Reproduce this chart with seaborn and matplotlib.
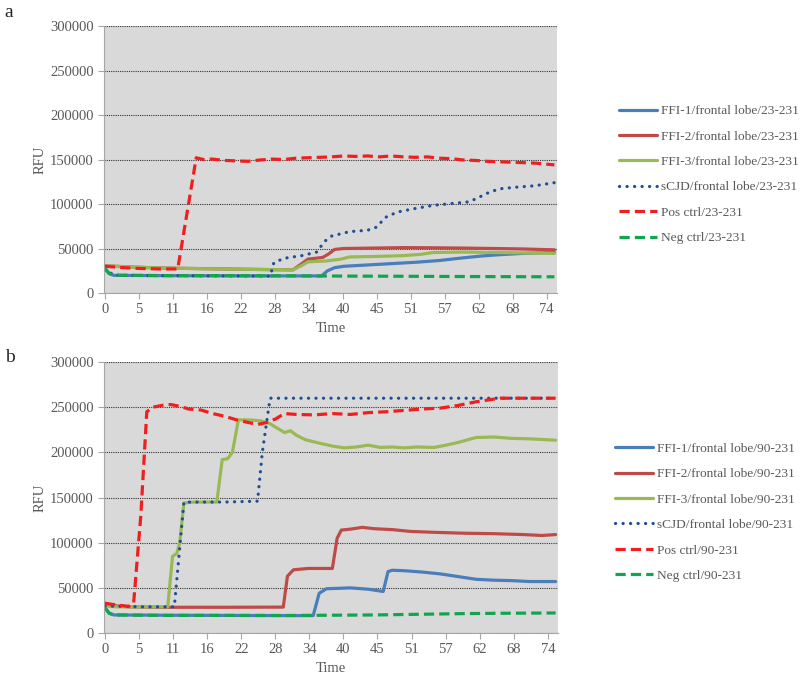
import matplotlib
matplotlib.use("Agg")
import matplotlib.pyplot as plt
import seaborn as sns
import pandas as pd

# ---- panel a (23-231) ----
a_ffi1_t = [0, 0.7, 1.5, 10, 20, 30, 36.3, 37.3, 38.5, 40, 44, 48, 52, 56, 60, 63, 66, 70, 75.3]
a_ffi1_v = [27000, 22000, 19800, 19500, 19300, 19200, 19200, 25000, 28500, 30000, 31500, 33000, 34500,
            36500, 39500, 41500, 43000, 44500, 45500]

a_ffi2_t = [0, 5, 10, 15, 20, 25, 31.5, 33, 34, 36.5, 37.5, 38.5, 40, 45, 50, 55, 60, 65, 70, 75.3]
a_ffi2_v = [30500, 29000, 28000, 27500, 27000, 26500, 26000, 33000, 38000, 40000, 44000, 49000, 50000,
            50500, 51000, 50800, 50500, 50000, 49500, 48500]

a_ffi3_t = [0, 5, 10, 15, 20, 25, 31.5, 33, 34, 37, 39.5, 41, 45, 50, 53, 55, 60, 65, 70, 75.3]
a_ffi3_v = [30500, 29000, 28000, 27500, 27000, 26500, 26000, 31000, 35000, 36000, 38000, 40500, 41000,
            42000, 43500, 45500, 46000, 45500, 45000, 44500]

a_scjd_t = [0, 1.5, 10, 20, 27.7, 28.3, 30, 33, 35.5, 36.8, 38, 41, 44, 45.5, 47, 49, 52, 55, 58, 61,
            62.5, 64, 66, 69, 72, 75.3]
a_scjd_v = [27000, 20000, 19500, 19200, 19000, 34000, 39000, 42000, 46000, 58000, 64000, 69000, 70500,
            74000, 85000, 91000, 95000, 98500, 100500, 102500, 107000, 112000, 117000, 119000, 120500, 124000]

a_pos_t = [0, 3, 6, 9, 12.2, 15.3, 16.5, 18, 20, 22, 24, 26, 28, 30, 32, 34, 36, 38, 40, 42, 44, 46,
           48, 50, 52, 54, 56, 58, 60, 62, 64, 66, 68, 70, 72, 75.3]
a_pos_v = [30000, 28500, 27500, 27000, 27000, 152000, 150000, 150500, 149000, 148500, 148000, 149500,
           150500, 150000, 151500, 152000, 152500, 153000, 154000, 153500, 154000, 153000, 154000, 153000,
           152500, 153000, 151500, 151000, 149500, 149000, 148000, 147500, 147000, 146500, 146000, 144000]

a_neg_t = [0, 0.7, 1.5, 10, 20, 30, 40, 50, 60, 70, 75.3]
a_neg_v = [28000, 22000, 20000, 19500, 19500, 19300, 19000, 18800, 18500, 18300, 18200]

# ---- panel b (90-231) ----
b_ffi1_t = [0, 0.7, 1.5, 10, 20, 30, 34.8, 35.8, 37, 41, 44, 46.5, 47.3, 48, 50, 53, 56, 59, 62, 65,
            68, 71, 75.3]
b_ffi1_v = [28000, 22000, 20000, 19700, 19500, 19300, 19300, 44000, 49000, 50000, 48500, 46000, 68000,
            69500, 69000, 67500, 65500, 62500, 59500, 58500, 58000, 57000, 57000]

b_ffi2_t = [0, 2, 4, 10, 20, 29.8, 30.5, 31.5, 34, 38, 38.8, 39.5, 41, 43, 45, 48, 51, 55, 60, 65,
            70, 73, 75.3]
b_ffi2_v = [32000, 30000, 29000, 28500, 28500, 28700, 63000, 70000, 71500, 71500, 105000, 114000,
            115000, 117000, 115500, 114500, 112500, 111500, 110500, 110000, 109000, 108000, 109000]

b_ffi3_t = [0, 2, 5, 10.5, 11.3, 12, 12.5, 13.2, 15, 18.7, 19.6, 20.5, 21.3, 22.3, 24, 26, 27.5, 29,
            30, 31, 32, 33.5, 36, 38, 40, 42, 44, 46, 48, 50, 52, 55, 57, 59, 62, 65, 68, 71, 75.3]
b_ffi3_v = [30000, 29000, 29000, 29000, 85000, 88000, 100000, 144000, 145000, 145000, 192000, 193000,
            200000, 236000, 236000, 235000, 232000, 226000, 222000, 224000, 219000, 214000, 210000,
            207000, 205000, 206000, 208000, 205500, 206000, 205000, 206000, 205500, 208000, 211000,
            216500, 217000, 215500, 215000, 213500]

b_scjd_t = [0, 3, 6, 11.6, 13.2, 20, 25.5, 26.3, 27.6, 35, 45, 55, 65, 75.3]
b_scjd_v = [30000, 29500, 29000, 29000, 145000, 145000, 146000, 200000, 260000, 260000, 260000,
            260000, 260000, 260000]

b_pos_t = [0, 2, 4, 4.8, 6, 7, 8, 9.5, 11, 12.5, 14, 16, 18, 20, 22, 24, 25.5, 27, 28.5, 30, 32, 35,
           38, 41, 44, 47, 50, 53, 56, 59, 62, 64, 66, 70, 75.3]
b_pos_v = [33000, 31000, 29500, 33000, 130000, 245000, 250000, 252000, 253000, 251000, 248000, 247000,
           243000, 240000, 236000, 233000, 231000, 233000, 237000, 243000, 242000, 241500, 243000,
           242000, 244000, 245000, 246500, 248000, 249000, 252000, 256000, 258000, 260000, 260000, 260000]

b_neg_t = [0, 0.7, 1.5, 10, 20, 30, 40, 45, 50, 55, 60, 65, 70, 75.3]
b_neg_v = [28000, 22000, 20000, 19500, 19500, 19400, 19800, 20000, 20500, 21000, 21500, 21800, 22000, 22200]

series_names = ["FFI-1/frontal lobe", "FFI-2/frontal lobe", "FFI-3/frontal lobe",
                "sCJD/frontal lobe", "Pos ctrl", "Neg ctrl"]
tick_labels = ["0", "5", "11", "16", "22", "28", "34", "40", "45", "51", "57", "62", "68", "74"]
y_ticks = [0, 50000, 100000, 150000, 200000, 250000, 300000]

colors = ["#4A7EBB", "#BE4B48", "#98B954", "#1F4E96", "#F01E1E", "#12A550"]
styles = ["-", "-", "-", (0, (0.05, 2.3)), (0, (3.2, 1.6)), (0, (3.2, 1.6))]

sns.set_style("white", {"axes.facecolor": "#D9D9D9"})
plt.rcParams["font.family"] = ["Liberation Serif", "DejaVu Serif"]
TEXT = "#595959"

fig = plt.figure(figsize=(8, 6.74), dpi=100)
ax_a = fig.add_axes([0.13, 0.5653, 0.566, 0.396])
ax_b = fig.add_axes([0.13, 0.0608, 0.5675, 0.402])

panels = [
    (ax_a, "23-231", [(a_ffi1_t, a_ffi1_v), (a_ffi2_t, a_ffi2_v), (a_ffi3_t, a_ffi3_v),
                      (a_scjd_t, a_scjd_v), (a_pos_t, a_pos_v), (a_neg_t, a_neg_v)], 0.774, 0.741),
    (ax_b, "90-231", [(b_ffi1_t, b_ffi1_v), (b_ffi2_t, b_ffi2_v), (b_ffi3_t, b_ffi3_v),
                      (b_scjd_t, b_scjd_v), (b_pos_t, b_pos_v), (b_neg_t, b_neg_v)], 0.769, 0.240),
]

for ax, suffix, data, lx, ly in panels:
    for name, (t, v), c, ls in zip(series_names, data, colors, styles):
        df = pd.DataFrame({"Time": t, "RFU": v})
        sns.lineplot(data=df, x="Time", y="RFU", ax=ax, color=c, linestyle=ls, linewidth=2.3,
                     estimator=None, sort=False, label=f"{name}/{suffix}",
                     dash_capstyle="round" if name.startswith("sCJD") else "butt")
    ax.set_xlim(-0.15, 75.7)
    ax.set_ylim(0, 300000)
    step = 74 / 13
    ax.set_xticks([i * step for i in range(len(tick_labels))], labels=tick_labels)
    ax.set_yticks(y_ticks, labels=[str(y) for y in y_ticks])
    ax.yaxis.grid(True, linestyle=(0, (1, 1)), color="#333333", linewidth=0.8)
    ax.set_axisbelow(True)
    for s in ["top", "right"]:
        ax.spines[s].set_visible(False)
    for s in ["left", "bottom"]:
        ax.spines[s].set_color("#A6A6A6")
        ax.spines[s].set_linewidth(0.8)
    ax.tick_params(axis="both", colors="#A6A6A6", labelcolor=TEXT, labelsize=10.5, length=4,
                   direction="out", width=0.8, bottom=True, left=True)
    ax.set_xlabel("Time", color=TEXT, fontsize=10.5, labelpad=4)
    ax.set_ylabel("RFU", color=TEXT, fontsize=10.5, labelpad=2)
    handles, labels = ax.get_legend_handles_labels()
    ax.get_legend().remove()
    fig.legend(handles, labels, loc="center left", bbox_to_anchor=(lx, ly), frameon=False,
               fontsize=9.6, labelcolor=TEXT, handlelength=2.8, handletextpad=0.3,
               labelspacing=0.98, borderpad=0, borderaxespad=0)

fig.text(0.006, 0.982, "a", fontsize=14, va="center", ha="left")
fig.text(0.006, 0.470, "b", fontsize=14, va="center", ha="left")

fig.savefig("out.png", dpi=100)
plt.close(fig)
